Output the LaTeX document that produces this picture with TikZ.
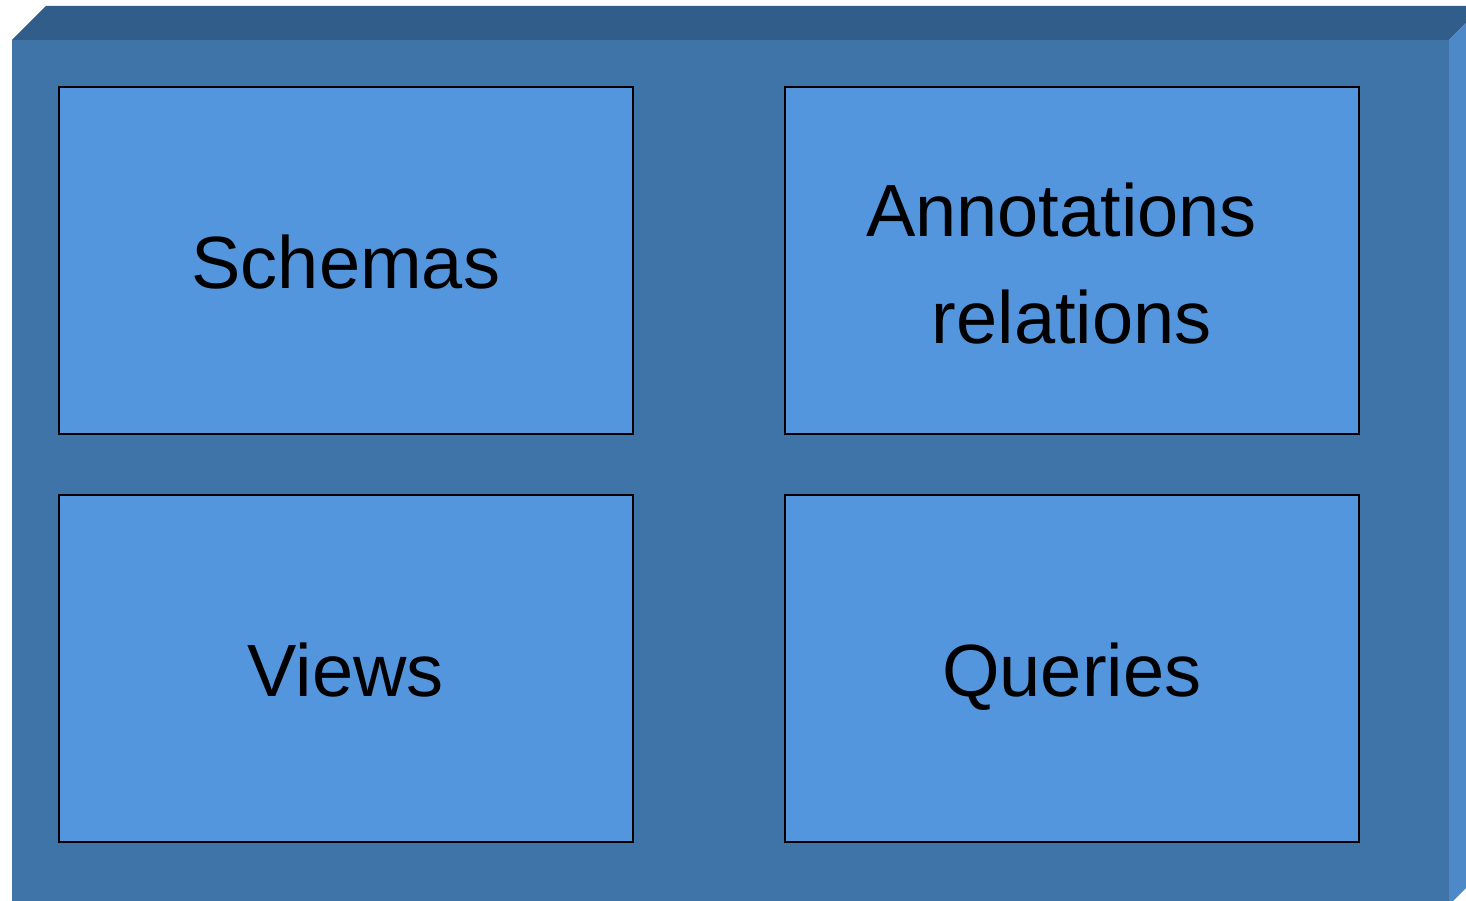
\documentclass[tikz,border=0pt]{standalone}
\usepackage{fontspec}
\setmainfont{Liberation Sans}
\definecolor{frontc}{HTML}{3F74A9}
\definecolor{topc}{HTML}{305D89}
\definecolor{sidec}{HTML}{4D88C8}
\definecolor{boxc}{HTML}{5396DD}
\tikzset{
  panel/.style={draw=black, line width=1.6pt, fill=boxc, minimum width=574pt, minimum height=347pt, inner sep=0pt, anchor=north west},
  label/.style={font=\fontsize{74}{107}\selectfont, text=black, align=center, inner sep=0pt},
  onel/.style={label, text height=53pt, text depth=0pt}
}
\begin{document}
\begin{tikzpicture}[x=1pt,y=-1pt]
\useasboundingbox (0,0) rectangle (1466,901);
\clip (0,0) rectangle (1466,901);
% front face
\fill[frontc] (12,40) rectangle (1449,910);
% top face
\fill[topc] (12,40) -- (46,6) -- (1483,6) -- (1449,40) -- cycle;
% right face
\fill[sidec] (1449,40) -- (1483,6) -- (1483,871) -- (1449,905) -- cycle;
\node[panel] (schemas) at (58,86) {};
\node[panel] (annot) at (784,86) {};
\node[panel] (views) at (58,494) {};
\node[panel] (queries) at (784,494) {};
\node[onel] (tschemas) at ([yshift=-2pt]schemas.center) {Schemas};
\node[onel] (tviews) at ([yshift=-2pt]views.center) {Views};
\node[onel] (tqueries) at ([yshift=-2pt]queries.center) {Queries};
\node[label] (tannot) at ([yshift=-3pt]annot.center) {Annotations\hspace*{0.278em}\\relations};
\end{tikzpicture}
\end{document}
